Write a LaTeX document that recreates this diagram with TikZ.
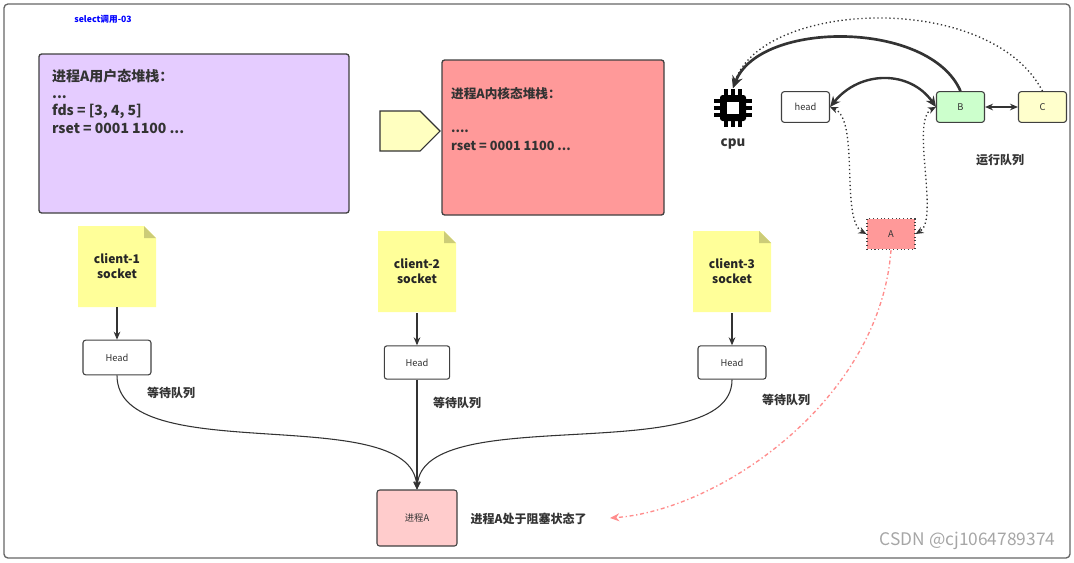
\documentclass[tikz,border=0pt]{standalone}
\usepackage{fontspec}
\setmainfont{Noto Sans CJK SC}
\usetikzlibrary{shapes.arrows,arrows.meta}
\definecolor{cpurple}{RGB}{229,204,255}
\definecolor{cred}{RGB}{255,153,153}
\definecolor{carrow}{RGB}{255,255,192}
\definecolor{cgreen}{RGB}{204,255,204}
\definecolor{cyel}{RGB}{255,255,204}
\definecolor{cnote}{RGB}{255,255,153}
\definecolor{cfold}{RGB}{204,204,120}
\definecolor{cpink}{RGB}{255,204,204}
\definecolor{cdash}{RGB}{255,140,140}
\begin{document}
\begin{tikzpicture}[x=0.75pt,y=-0.75pt,
 box/.style={draw=black!75,line width=0.8pt,rounded corners=2pt,font=\fontsize{7}{8}\selectfont,text=black!80},
 big/.style={draw=black!75,line width=1pt,rounded corners=2pt,text=black!80,font=\bfseries\fontsize{10.5}{13}\selectfont,align=left},
 note/.style={font=\bfseries\fontsize{9}{11}\selectfont,text=black!85,align=center},
 lab/.style={font=\bfseries\fontsize{9}{11}\selectfont,text=black!80},
 con/.style={draw=black!80,line width=0.8pt,-{Stealth[length=6pt,width=5pt]}}]
\useasboundingbox (0,0) rectangle (1074,562);
\draw[black!60,line width=1pt,rounded corners=3pt] (4,4) rectangle (1070,558);
\node[font=\bfseries\fontsize{6.5}{8}\selectfont,text=blue] (title) at (103,19) {select调用-03};
% stacks
\draw[big,fill=cpurple] (39,54) rectangle (349,213);
\node[big,draw=none,anchor=north west] (us) at (47,64) {进程A用户态堆栈：\\...\\fds = [3, 4, 5]\\rset = 0001 1100 ...};
\draw[big,fill=cred] (442,60) rectangle (664,215);
\node[big,draw=none,anchor=north west,font=\bfseries\fontsize{9.5}{13}\selectfont] (ks) at (446,82) {进程A内核态堆栈：\\\\....\\rset = 0001 1100 ...};
\node[single arrow,draw=black!80,fill=carrow,minimum height=45pt,minimum width=30pt,single arrow head extend=0pt,inner sep=2pt,line width=0.8pt] (ar) at (400,131) {};
% cpu
\begin{scope}[shift={(733,108)}]
\fill[black,rounded corners=2pt] (-13,-13) rectangle (13,13);
\fill[white] (-6,-6) rectangle (6,6);
\foreach \t in {-7,0,7}{
 \fill (\t-2,-19) rectangle (\t+2,-13); \fill (\t-2,13) rectangle (\t+2,19);
 \fill (-19,\t-2) rectangle (-13,\t+2); \fill (13,\t-2) rectangle (19,\t+2);}
\coordinate (cpu) at (0,-20);
\end{scope}
\node[lab,font=\bfseries\fontsize{10}{12}\selectfont] (cpul) at (733,144) {cpu};
% run queue
\node[box,fill=white,minimum width=36pt,minimum height=23pt] (head) at (805.5,107) {head};
\node[box,fill=cgreen,minimum width=36pt,minimum height=23pt] (B) at (960.5,107) {B};
\node[box,fill=cyel,minimum width=36pt,minimum height=23pt] (C) at (1042.5,107) {C};
\node[box,fill=cred,dotted,rounded corners=0pt,minimum width=36pt,minimum height=23pt] (A) at (891,234) {A};
\node[lab] (rq) at (1000,160) {运行队列};
\draw[line width=2pt,black!80,-{Stealth[length=9pt,width=8pt]}] (B.north) .. controls (930,20) and (760,20) .. (cpu);
\draw[line width=1pt,black!80,dotted,-{Stealth[length=7pt,width=6pt]}] (C.north) .. controls (990,-10) and (760,0) .. (cpu);
\draw[line width=1.8pt,black!80,{Stealth[length=8pt,width=7pt]}-{Stealth[length=8pt,width=7pt]}] (head.east) .. controls (860,70) and (910,70) .. (B.west);
\draw[line width=1pt,black!80,{Stealth[length=6pt,width=5pt]}-{Stealth[length=6pt,width=5pt]}] (B.east) -- (C.west);
\draw[line width=1pt,black!80,dotted,{Stealth[length=6pt,width=5pt]}-{Stealth[length=6pt,width=5pt]}] (head.east) .. controls (860,120) and (840,220) .. (A.west);
\draw[line width=1pt,black!80,dotted,{Stealth[length=6pt,width=5pt]}-{Stealth[length=6pt,width=5pt]}] (B.west) .. controls (910,120) and (940,220) .. (A.east);
% notes
\foreach \n/\x/\y/\t in {n1/117/266/client-1,n2/417/271/client-2,n3/732/271/client-3}{
 \begin{scope}[shift={(\x,\y)}]
 \fill[cnote] (-39,-40) -- (27,-40) -- (39,-28) -- (39,41) -- (-39,41) -- cycle;
 \fill[cfold] (27,-40) -- (27,-28) -- (39,-28) -- cycle;
 \end{scope}
 \node[note] (\n) at (\x,\y) {\t\\socket};}
\node[box,fill=white,minimum width=51pt,minimum height=26pt] (h1) at (117,357.5) {Head};
\node[box,fill=white,minimum width=49pt,minimum height=25pt] (h2) at (417,362.5) {Head};
\node[box,fill=white,minimum width=51pt,minimum height=25pt] (h3) at (732,362.5) {Head};
\draw[con] (117,307) -- (h1.north);
\draw[con] (417,313) -- (h2.north);
\draw[con] (732,313) -- (h3.north);
\node[lab] (w1) at (171,393) {等待队列};
\node[lab] (w2) at (457,403) {等待队列};
\node[lab] (w3) at (786,400) {等待队列};
\node[box,fill=cpink,minimum width=60pt,minimum height=42pt] (P) at (417,518) {进程A};
\node[lab,anchor=west] (bl) at (466,519) {进程A处于阻塞状态了};
\draw[con] (h1.south) .. controls (117,470) and (410,400) .. (P.north);
\draw[con] (h2.south) -- (P.north);
\draw[con] (h3.south) .. controls (732,470) and (424,400) .. (P.north);
\draw[cdash,line width=1pt,dash dot,-{Stealth[length=7pt,width=6pt]}] (A.south) .. controls (880,400) and (720,510) .. (610,518);
\node[font=\fontsize{13}{15}\selectfont,text=black!35,anchor=east] (wm) at (1060,541) {CSDN @cj1064789374};
\end{tikzpicture}
\end{document}
